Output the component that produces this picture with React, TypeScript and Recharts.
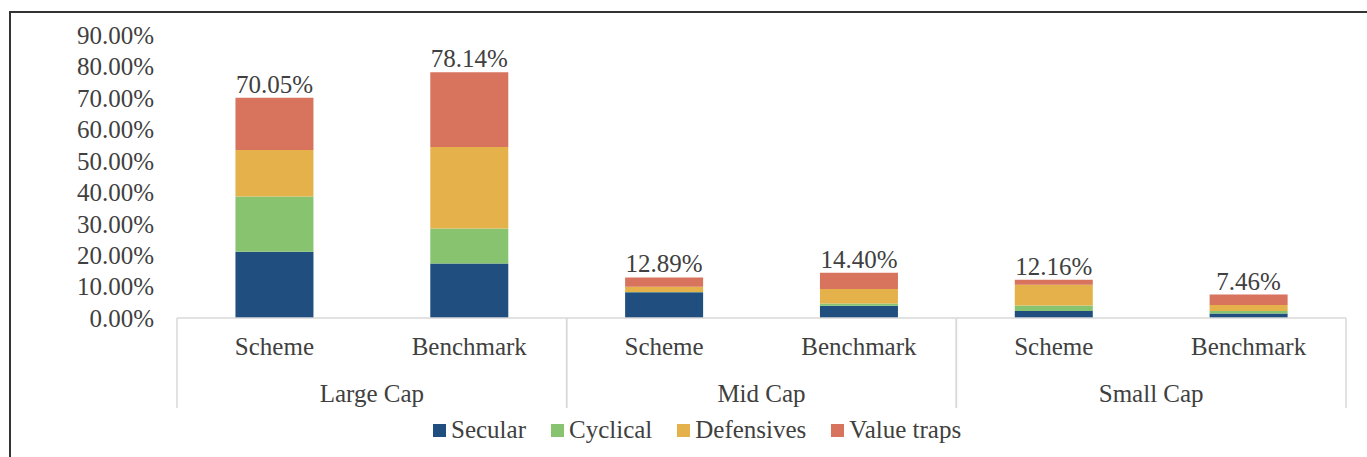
import React from 'react';
import { BarChart, Bar, XAxis, YAxis, LabelList } from 'recharts';

const categories = ['Scheme', 'Benchmark', 'Scheme', 'Benchmark', 'Scheme', 'Benchmark'];
const groups = ['Large Cap', 'Mid Cap', 'Small Cap'];
const secular = [0.211, 0.173, 0.082, 0.039, 0.022, 0.014];
const cyclical = [0.175, 0.112, 0.001, 0.007, 0.018, 0.008];
const defensives = [0.148, 0.259, 0.016, 0.046, 0.066, 0.019];
const valueTraps = [0.1665, 0.2374, 0.0299, 0.052, 0.0156, 0.0336];
const totals = [0.7005, 0.7814, 0.1289, 0.144, 0.1216, 0.0746];
const yTicks = [0, 0.1, 0.2, 0.3, 0.4, 0.5, 0.6, 0.7, 0.8, 0.9];

const seriesNames = ['Secular', 'Cyclical', 'Defensives', 'Value traps'];
const seriesKeys = ['secular', 'cyclical', 'defensives', 'valueTraps'];
const seriesColors = ['#1F4E7F', '#88C46F', '#E5B14B', '#D8735D'];

const data = categories.map((name, i) => ({
  name,
  group: groups[Math.floor(i / 2)],
  secular: secular[i],
  cyclical: cyclical[i],
  defensives: defensives[i],
  valueTraps: valueTraps[i],
  total: totals[i],
}));

const FONT = '"Liberation Serif", "Times New Roman", serif';
const TEXT = '#404040';
const FS = 25;
const pct = (v: number) => (v * 100).toFixed(2) + '%';

const XTick = (props: any) => {
  const { x, y, payload, index } = props;
  const half =
    (payload && payload.offset) || (props.width && props.visibleTicksCount ? props.width / props.visibleTicksCount / 2 : 97.4);
  const lineStyle = { stroke: '#D9D9D9', strokeWidth: 1.5 };
  return (
    <g>
      <text x={x} y={y + 37} textAnchor="middle" fill={TEXT} fontFamily={FONT} fontSize={FS}>
        {payload.value}
      </text>
      {index % 2 === 0 && <line x1={x - half} x2={x - half} y1={y} y2={y + 90} {...lineStyle} />}
      {index % 2 === 1 && (
        <>
          <line x1={x + half} x2={x + half} y1={y} y2={y + 90} {...lineStyle} />
          <text x={x - half} y={y + 84} textAnchor="middle" fill={TEXT} fontFamily={FONT} fontSize={FS}>
            {groups[(index - 1) / 2]}
          </text>
        </>
      )}
    </g>
  );
};

const TotalLabel = (props: any) => {
  const { x, y, width, index } = props;
  return (
    <text x={x + width / 2} y={y - 5} textAnchor="middle" fill={TEXT} fontFamily={FONT} fontSize={FS}>
      {pct(totals[index])}
    </text>
  );
};

export default function App() {
  return (
    <div
      style={{
        position: 'fixed',
        left: 0,
        top: 0,
        width: 1367,
        height: 457,
        overflow: 'hidden',
        background: '#fff',
      }}
    >
      <div
        style={{
          position: 'absolute',
          left: 9,
          top: 11,
          width: 2000,
          height: 2000,
          borderLeft: '2px solid #333',
          borderTop: '2px solid #333',
        }}
      />
      <div style={{ position: 'absolute', left: 0, top: 0 }}>
        <BarChart
          width={1367}
          height={457}
          data={data}
          margin={{ top: 35, right: 21, bottom: 29, left: 0 }}
          barCategoryGap="30%"
        >
          <YAxis
            width={177}
            domain={[0, 0.9]}
            ticks={yTicks}
            interval={0}
            tickFormatter={pct}
            axisLine={false}
            tickLine={false}
            tickSize={0}
            tickMargin={23}
            tick={{ fill: TEXT, fontFamily: FONT, fontSize: FS }}
          />
          <XAxis
            dataKey="name"
            height={110}
            interval={0}
            tickLine={false}
            tickSize={0}
            tickMargin={0}
            axisLine={{ stroke: '#D9D9D9', strokeWidth: 1.5 }}
            tick={<XTick />}
          />
          {seriesKeys.map((k, i) => (
            <Bar key={k} dataKey={k} name={seriesNames[i]} stackId="a" fill={seriesColors[i]} isAnimationActive={false}>
              {i === seriesKeys.length - 1 && <LabelList dataKey="total" content={<TotalLabel />} />}
            </Bar>
          ))}
        </BarChart>
      </div>
      <div
        style={{
          position: 'absolute',
          left: 433,
          top: 417,
          display: 'flex',
          alignItems: 'center',
          fontFamily: FONT,
          fontSize: FS,
          color: TEXT,
          lineHeight: '26px',
          whiteSpace: 'nowrap',
        }}
      >
        {seriesNames.map((n, i) => (
          <div key={n} style={{ display: 'flex', alignItems: 'center', marginRight: i < seriesNames.length - 1 ? 25 : 0 }}>
            <span style={{ display: 'inline-block', width: 13, height: 13, background: seriesColors[i], marginRight: 5 }} />
            <span>{n}</span>
          </div>
        ))}
      </div>
    </div>
  );
}
